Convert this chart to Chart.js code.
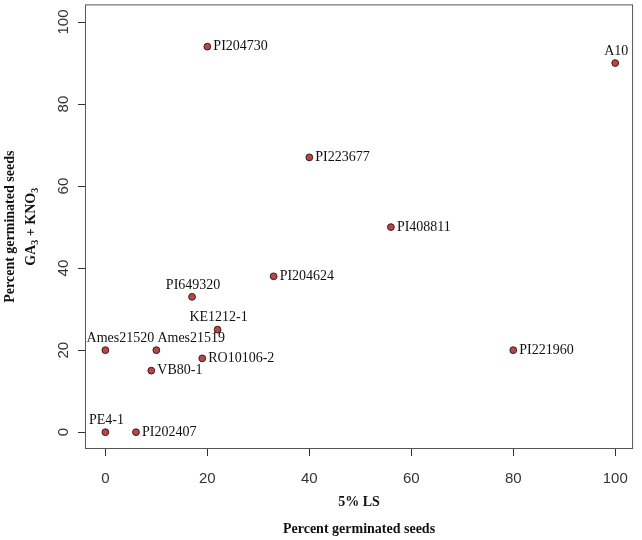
<!DOCTYPE html>
<html>
<head>
<meta charset="utf-8">
<script src="https://cdn.jsdelivr.net/npm/chart.js@4.4.1/dist/chart.umd.min.js"></script>
<style>
  html, body { margin: 0; padding: 0; background: #fff; }
  #wrap { width: 642px; height: 540px; position: relative; }
</style>
</head>
<body>
<div id="wrap"><canvas id="chart"></canvas></div>
<script>
// Accessions and their germination percentages
const accessions = ['PI204730', 'A10', 'PI223677', 'PI408811', 'PI204624', 'PI649320', 'KE1212-1',
  'Ames21520', 'Ames21519', 'RO10106-2', 'VB80-1', 'PI221960', 'PE4-1', 'PI202407'];
const lsValues = [20, 100, 40, 56, 33, 17, 22, 0, 10, 19, 9, 80, 0, 6];
const gaValues = [94, 90, 67, 50, 38, 33, 25, 20, 20, 18, 15, 20, 0, 0];
// where each label sits relative to its point
const labelPos = ['right', 'top', 'right', 'right', 'right', 'top', 'top',
  'topshift', 'topright', 'right', 'right', 'right', 'top', 'right'];
const xTicks = [0, 20, 40, 60, 80, 100];
const yTicks = [0, 20, 40, 60, 80, 100];

const SERIF = '"Liberation Serif", "Times New Roman", serif';
const SANS = '"Liberation Sans", Arial, sans-serif';

/**
 * Box, rotated y tick labels, axis titles and point labels (R-style)
 */
const decorPlugin = {
  id: 'decor',
  afterDraw(chart) {
    const ctx = chart.ctx;
    const area = chart.chartArea;
    const yScale = chart.scales.y;
    ctx.save();

    // box
    ctx.strokeStyle = '#555';
    ctx.lineWidth = 1;
    ctx.strokeRect(area.left + 0.5, area.top + 0.5, area.right - area.left - 1, area.bottom - area.top - 1);

    // y tick labels, rotated
    ctx.fillStyle = '#333';
    ctx.font = '15px ' + SANS;
    ctx.textAlign = 'center';
    ctx.textBaseline = 'middle';
    yTicks.forEach((v) => {
      const py = yScale.getPixelForValue(v);
      ctx.save();
      ctx.translate(64, py);
      ctx.rotate(-Math.PI / 2);
      ctx.fillText(String(v), 0, 0);
      ctx.restore();
    });

    // x axis titles
    const cx = (area.left + area.right) / 2;
    ctx.fillStyle = '#111';
    ctx.font = 'bold 14px ' + SERIF;
    ctx.fillText('5% LS', cx, 502);
    ctx.fillText('Percent germinated seeds', cx, 529);

    // y axis titles
    const cy = (area.top + area.bottom) / 2;
    ctx.save();
    ctx.translate(10, cy);
    ctx.rotate(-Math.PI / 2);
    ctx.fillText('Percent germinated seeds', 0, 0);
    ctx.restore();

    ctx.save();
    ctx.translate(31, cy);
    ctx.rotate(-Math.PI / 2);
    const big = 'bold 14px ' + SERIF;
    const small = 'bold 10px ' + SERIF;
    const parts = [['GA', big, 0], ['3', small, 4], [' + KNO', big, 0], ['3', small, 4]];
    let total = 0;
    parts.forEach((p) => {
      ctx.font = p[1];
      total += ctx.measureText(p[0]).width;
    });
    let px = -total / 2;
    ctx.textAlign = 'left';
    parts.forEach((p) => {
      ctx.font = p[1];
      ctx.fillText(p[0], px, p[2]);
      px += ctx.measureText(p[0]).width;
    });
    ctx.restore();

    // point labels
    const meta = chart.getDatasetMeta(0);
    ctx.font = '14px ' + SERIF;
    ctx.fillStyle = '#111';
    meta.data.forEach((pt, i) => {
      const pos = labelPos[i];
      const name = accessions[i];
      if (pos === 'right') {
        ctx.textAlign = 'left';
        ctx.fillText(name, pt.x + 6, pt.y);
      } else if (pos === 'top') {
        ctx.textAlign = 'center';
        ctx.fillText(name, pt.x + 1, pt.y - 12);
      } else if (pos === 'topright') {
        ctx.textAlign = 'left';
        ctx.fillText(name, pt.x + 1, pt.y - 12);
      } else {
        ctx.textAlign = 'center';
        ctx.fillText(name, pt.x + 15, pt.y - 12);
      }
    });

    ctx.restore();
  },
};

new Chart(document.getElementById('chart'), {
  type: 'scatter',
  data: {
    datasets: [
      {
        data: lsValues.map((v, i) => ({ x: v, y: gaValues[i] })),
        backgroundColor: '#B04A4A',
        borderColor: '#4a1515',
        borderWidth: 1,
        pointRadius: 3.4,
        pointHoverRadius: 3.4,
      },
    ],
  },
  options: {
    responsive: true,
    maintainAspectRatio: false,
    animation: false,
    events: [],
    layout: { padding: { top: 3, right: 8, left: 0, bottom: 0 } },
    plugins: {
      legend: { display: false },
      tooltip: { enabled: false },
    },
    scales: {
      x: {
        type: 'linear',
        min: -4,
        max: 103.5,
        afterBuildTicks: (s) => { s.ticks = xTicks.map((v) => ({ value: v })); },
        afterFit: (s) => { s.height = 91; },
        border: { display: false },
        grid: { drawOnChartArea: false, drawTicks: true, tickLength: 7, tickColor: '#333' },
        ticks: { color: '#333', font: { family: SANS, size: 15 }, padding: 14, maxRotation: 0 },
      },
      y: {
        type: 'linear',
        min: -4.1,
        max: 104.3,
        afterBuildTicks: (s) => { s.ticks = yTicks.map((v) => ({ value: v })); },
        afterFit: (s) => { s.width = 85; },
        border: { display: false },
        grid: { drawOnChartArea: false, drawTicks: true, tickLength: 7, tickColor: '#333' },
        ticks: { display: false },
      },
    },
  },
  plugins: [decorPlugin],
});
</script>
</body>
</html>
